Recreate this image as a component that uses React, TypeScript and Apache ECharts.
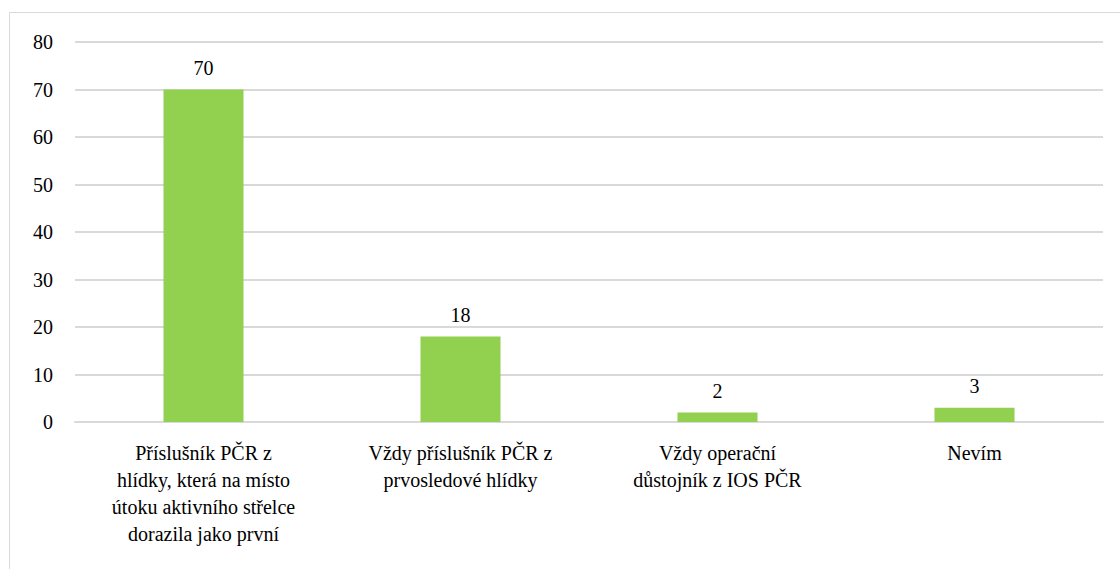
import React, { useEffect, useRef } from "react";
import * as echarts from "echarts";

const categories = [
  "Příslušník PČR z\nhlídky, která na místo\nútoku aktivního střelce\ndorazila jako první",
  "Vždy příslušník PČR z\nprvosledové hlídky",
  "Vždy operační\ndůstojník z IOS PČR",
  "Nevím",
];
const values = [70, 18, 2, 3];
const yMin = 0;
const yMax = 80;
const yInterval = 10;

const FONT = "Liberation Serif";

export default function App() {
  const ref = useRef<HTMLDivElement>(null);
  useEffect(() => {
    if (!ref.current) return;
    const chart = echarts.init(ref.current, undefined, { renderer: "svg" });
    chart.setOption({
      animation: false,
      backgroundColor: "#ffffff",
      textStyle: { fontFamily: FONT, fontSize: 20 },
      graphic: [
        {
          type: "rect",
          shape: { x: 9.5, y: 12.5, width: 1200, height: 700 },
          style: { fill: "none", stroke: "#d9d9d9", lineWidth: 1 },
          silent: true,
        },
      ],
      grid: { left: 75, right: 17, top: 42, bottom: 147 },
      xAxis: {
        type: "category",
        data: categories,
        axisLine: { lineStyle: { color: "#d9d9d9", width: 2 } },
        axisTick: { show: false },
        axisLabel: {
          interval: 0,
          color: "#000",
          fontFamily: FONT,
          fontSize: 20,
          lineHeight: 27,
          margin: 17,
        },
      },
      yAxis: {
        type: "value",
        min: yMin,
        max: yMax,
        interval: yInterval,
        axisLine: { show: false },
        axisTick: { show: false },
        splitLine: { lineStyle: { color: "#d9d9d9", width: 2 } },
        axisLabel: {
          color: "#000",
          fontFamily: FONT,
          fontSize: 20,
          margin: 22,
        },
      },
      series: [
        {
          type: "bar",
          data: values,
          barWidth: 80,
          itemStyle: { color: "#92d050" },
          label: {
            show: true,
            position: "top",
            distance: 12,
            color: "#000",
            fontFamily: FONT,
            fontSize: 20,
          },
        },
      ],
    });
    return () => chart.dispose();
  }, []);
  return (
    <div
      ref={ref}
      style={{ position: "fixed", left: 0, top: 0, width: 1120, height: 569 }}
    />
  );
}
